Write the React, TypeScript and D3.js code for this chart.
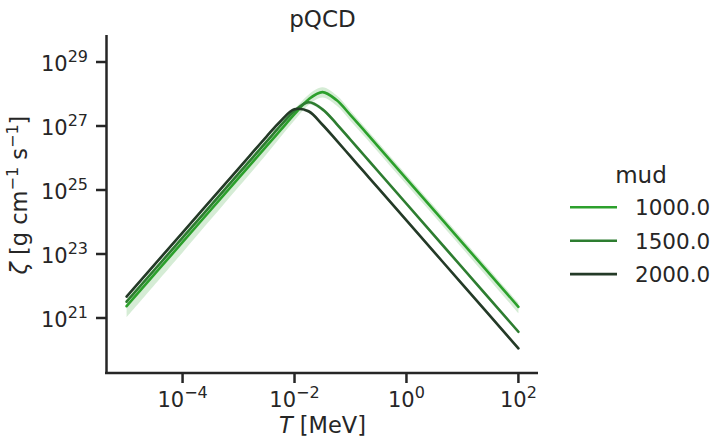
import React from "react";
import * as d3 from "d3";

// log10(T / MeV) sample grid
const logT = [-5, -4, -3, -2.5, -2.25, -2, -1.75, -1.5, -1.25, -1, -0.75, -0.5, 0, 1, 2];

// log10(zeta) for each mud series
const zeta1000 = [21.37, 23.37, 25.37, 26.37, 26.87, 27.37, 27.83, 28.06, 27.81, 27.34, 26.85, 26.35, 25.35, 23.35, 21.35];
const zeta1500 = [21.51, 23.51, 25.51, 26.51, 27.01, 27.47, 27.74, 27.52, 27.07, 26.57, 26.07, 25.57, 24.57, 22.57, 20.57];
const zeta2000 = [21.67, 23.67, 25.67, 26.67, 27.15, 27.52, 27.46, 27.04, 26.55, 26.05, 25.55, 25.05, 24.05, 22.05, 20.05];

// confidence band (log10 lower / upper)
const lo1000 = [21.02, 23.05, 25.09, 26.12, 26.66, 27.18, 27.66, 27.89, 27.64, 27.16, 26.67, 26.17, 25.17, 23.17, 21.15];
const hi1000 = [21.47, 23.48, 25.5, 26.51, 27.02, 27.52, 27.98, 28.21, 27.96, 27.48, 26.98, 26.48, 25.48, 23.48, 21.47];
const lo1500 = [21.45, 23.45, 25.45, 26.45, 26.95, 27.41, 27.68, 27.46, 27.01, 26.51, 26.01, 25.51, 24.51, 22.51, 20.51];
const hi1500 = [21.57, 23.57, 25.57, 26.57, 27.07, 27.53, 27.8, 27.58, 27.13, 26.63, 26.13, 25.63, 24.63, 22.63, 20.63];
const lo2000 = [21.62, 23.62, 25.62, 26.62, 27.1, 27.47, 27.41, 26.99, 26.5, 26.0, 25.5, 25.0, 24.0, 22.0, 20.0];
const hi2000 = [21.72, 23.72, 25.72, 26.72, 27.2, 27.57, 27.51, 27.09, 26.6, 26.1, 25.6, 25.1, 24.1, 22.1, 20.1];

const mudLabels = ["1000.0", "1500.0", "2000.0"];
const colors = ["#2ca02c", "#2d7d30", "#243a27"];

const xTickExps = [-4, -2, 0, 2];
const yTickExps = [21, 23, 25, 27, 29];

const W = 714;
const H = 440;

export default function App() {
  const x = d3.scaleLog().domain([Math.pow(10, -5.35), Math.pow(10, 2.35)]).range([107, 538]);
  const y = d3.scaleLog().domain([Math.pow(10, 19.281), Math.pow(10, 29.844)]).range([373, 35]);

  const series = [
    { v: zeta1000, lo: lo1000, hi: hi1000 },
    { v: zeta1500, lo: lo1500, hi: hi1500 },
    { v: zeta2000, lo: lo2000, hi: hi2000 },
  ];

  const line = d3
    .line<[number, number]>()
    .x((d) => x(Math.pow(10, d[0])))
    .y((d) => y(Math.pow(10, d[1])))
    .curve(d3.curveCatmullRom.alpha(0.5));

  const area = d3
    .area<[number, number, number]>()
    .x((d) => x(Math.pow(10, d[0])))
    .y0((d) => y(Math.pow(10, d[1])))
    .y1((d) => y(Math.pow(10, d[2])))
    .curve(d3.curveCatmullRom.alpha(0.5));

  const font = "DejaVu Sans, sans-serif";
  const textColor = "#262626";

  return (
    <svg
      width={W}
      height={H}
      style={{ position: "absolute", left: 0, top: 0, background: "#fff" }}
      fontFamily={font}
    >
      {/* bands */}
      {series.map((s, i) => (
        <path
          key={"b" + i}
          d={area(logT.map((t, k) => [t, s.lo[k], s.hi[k]] as [number, number, number])) || ""}
          fill={colors[i]}
          fillOpacity={0.2}
          stroke="none"
        />
      ))}
      {/* lines */}
      {series.map((s, i) => (
        <path
          key={"l" + i}
          d={line(logT.map((t, k) => [t, s.v[k]] as [number, number])) || ""}
          fill="none"
          stroke={colors[i]}
          strokeWidth={2.6}
          strokeLinecap="round"
        />
      ))}

      {/* spines */}
      <line x1={106.5} x2={106.5} y1={35} y2={374} stroke={textColor} strokeWidth={2.5} />
      <line x1={105} x2={538} y1={373} y2={373} stroke={textColor} strokeWidth={2.5} />

      {/* x ticks */}
      {xTickExps.map((e) => {
        const px = x(Math.pow(10, e));
        return (
          <g key={"xt" + e}>
            <line x1={px} x2={px} y1={373} y2={383} stroke={textColor} strokeWidth={2.5} />
            <text x={px} y={407} textAnchor="middle" fontSize={21} fill={textColor}>
              10
              <tspan dy={-9} fontSize={16}>
                {e < 0 ? "\u2212" + Math.abs(e) : String(e)}
              </tspan>
            </text>
          </g>
        );
      })}

      {/* y ticks */}
      {yTickExps.map((e) => {
        const py = y(Math.pow(10, e));
        return (
          <g key={"yt" + e}>
            <line x1={96} x2={106} y1={py} y2={py} stroke={textColor} strokeWidth={2.5} />
            <text x={88} y={py + 9} textAnchor="end" fontSize={21} fill={textColor}>
              10
              <tspan dy={-9} fontSize={16}>
                {String(e)}
              </tspan>
            </text>
          </g>
        );
      })}

      {/* axis labels */}
      <text x={322.5} y={433} textAnchor="middle" fontSize={22.5} fill={textColor}>
        <tspan fontStyle="italic">T</tspan> [MeV]
      </text>
      <text
        transform={`translate(27,195) rotate(-90)`}
        textAnchor="middle"
        fontSize={22.5}
        fill={textColor}
      >
        <tspan fontStyle="italic">ζ</tspan> [g cm
        <tspan dy={-9} fontSize={16}>
          −1
        </tspan>
        <tspan dy={9}> s</tspan>
        <tspan dy={-9} fontSize={16}>
          −1
        </tspan>
        <tspan dy={9}>]</tspan>
      </text>

      {/* title */}
      <text x={322.5} y={27} textAnchor="middle" fontSize={23} fill={textColor}>
        pQCD
      </text>

      {/* legend */}
      <text x={641} y={183} textAnchor="middle" fontSize={23} fill={textColor}>
        mud
      </text>
      {mudLabels.map((lab, i) => {
        const ly = 207.3 + i * 33.4;
        return (
          <g key={"lg" + i}>
            <line x1={570} x2={617} y1={ly} y2={ly} stroke={colors[i]} strokeWidth={2.6} />
            <text x={635} y={ly + 8} fontSize={21.5} fill={textColor}>
              {lab}
            </text>
          </g>
        );
      })}
    </svg>
  );
}
